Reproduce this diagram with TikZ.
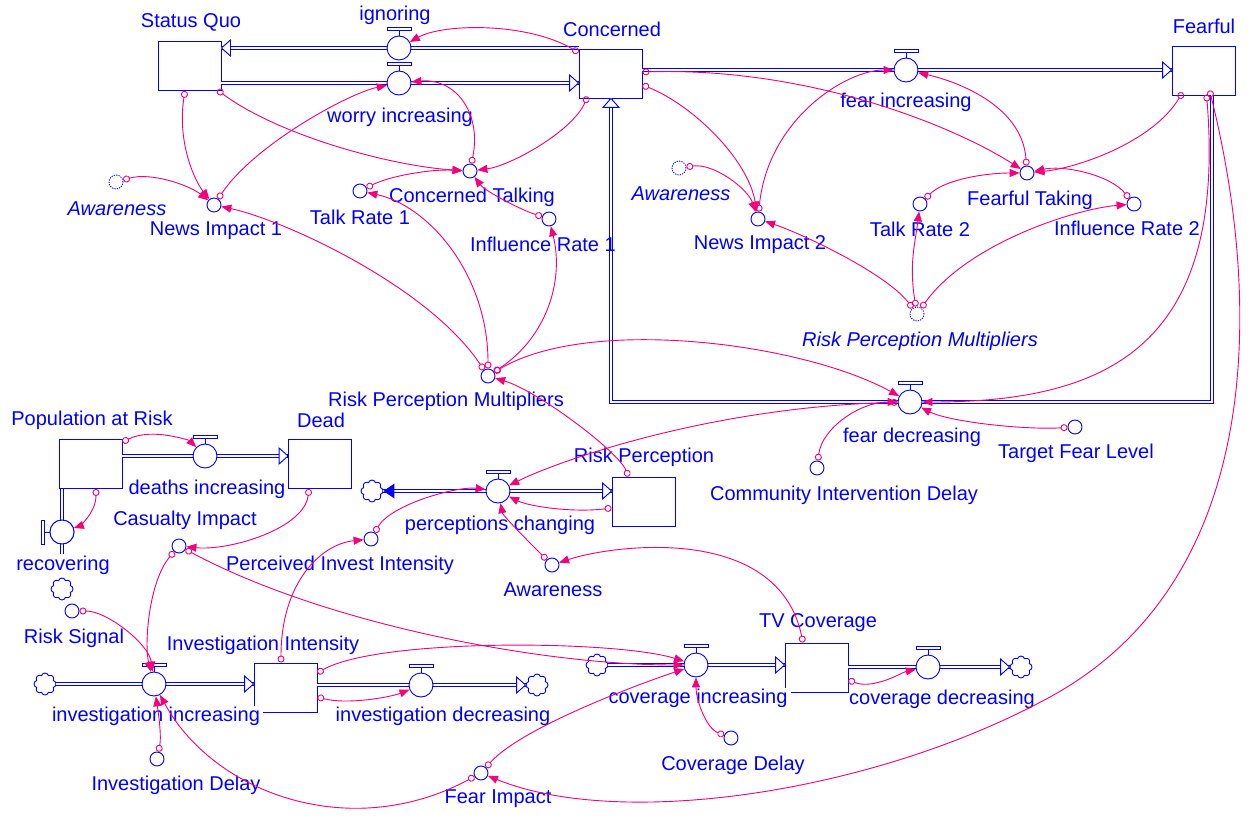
\documentclass[tikz,border=0pt]{standalone}
\usepackage{fontspec}
\setmainfont{Liberation Sans}
\usetikzlibrary{arrows.meta,shapes.symbols,calc}
\definecolor{sfblue}{RGB}{0,0,255}
\definecolor{lnk}{RGB}{245,0,120}
\tikzset{
 stock/.style={draw=sfblue, line width=0.9pt, minimum width=63pt, minimum height=49pt, inner sep=0pt},
 valvec/.style={circle, draw=sfblue, line width=0.9pt, minimum size=24pt, inner sep=0pt, fill=white},
 aux/.style={circle, draw=sfblue, line width=0.9pt, minimum size=14pt, inner sep=0pt},
 ghost/.style={aux, dash pattern=on 1.2pt off 1.2pt},
 cloudy/.style={cloud, cloud puffs=8, aspect=1, draw=sfblue, line width=0.9pt, minimum width=22pt, minimum height=22pt, inner sep=0pt, fill=white},
 lbl/.style={text=sfblue, font=\fontsize{20}{24}\selectfont, inner sep=0pt},
 ilbl/.style={lbl, font=\fontsize{20}{24}\selectfont\itshape},
 wlbl/.style={lbl, fill=white, inner xsep=3pt, inner ysep=1pt},
 pipe/.style={draw=sfblue, line width=0.9pt, double=white, double distance=2.4pt},
 phead/.style={draw=sfblue, line width=0.9pt, fill=white, line join=miter},
 conn/.style={draw=lnk, line width=0.9pt, arrows={Circle[open,length=7pt,width=7pt]-Triangle[length=10pt,width=8pt]}},
}
\newcommand{\mkvalve}[2]{%
 \node[valvec] (#1) at #2 {};
 \draw[sfblue, line width=0.9pt] (#1.north) -- ++(0,-5);
 \draw[sfblue, line width=0.9pt, fill=white] ($(#1.north)+(-12,-5)$) rectangle ($(#1.north)+(12,-8.5)$);
}
\newcommand{\headR}[1]{\draw[phead] (#1) -- ++(-9,-8) -- ++(0,16) -- cycle;}
\newcommand{\headL}[1]{\draw[phead] (#1) -- ++(9,-8) -- ++(0,16) -- cycle;}
\newcommand{\headU}[1]{\draw[phead] (#1) -- ++(-8,9) -- ++(16,0) -- cycle;}
\begin{document}
\begin{tikzpicture}[x=1pt,y=-1pt]
\useasboundingbox[fill=white] (0,0) rectangle (1254,824);
% flow positions
\coordinate (p-ign) at (399,48);
\coordinate (p-wor) at (399,83);
\coordinate (p-fin) at (906,70);
\coordinate (p-fdec) at (910,402);
\coordinate (p-deaths) at (205,456);
\coordinate (p-recov) at (62,532);
\coordinate (p-pchg) at (498,491);
\coordinate (p-invinc) at (154,684);
\coordinate (p-invdec) at (421,685);
\coordinate (p-covinc) at (696,665);
\coordinate (p-covdec) at (928,667);
\coordinate (fdR) at (1212,402);
\coordinate (fdL) at (611,402);
% stocks
\node[stock] (sq) at (189.5,66) {};
\node[stock] (conc) at (610.5,73.5) {};
\node[stock] (fear) at (1203.5,70.5) {};
\node[stock] (par) at (90.5,464) {};
\node[stock] (dead) at (320,464) {};
\node[stock] (rp) at (643.5,501.5) {};
\node[stock] (ii) at (285.5,687.5) {};
\node[stock] (tv) at (816.5,667.5) {};
% clouds
\node[cloudy] (cl1) at (372,491) {};
\node[cloudy] (cl2) at (45,684) {};
\node[cloudy] (cl3) at (537,685) {};
\node[cloudy] (cl4) at (597,665) {};
\node[cloudy] (cl5) at (1021,667) {};
\node[cloudy] (cl6) at (62,589) {};
% pipes
\draw[pipe] (conc.west |- p-ign) -- (sq.east |- p-ign);
\draw[pipe] (sq.east |- p-wor) -- (conc.west |- p-wor);
\draw[pipe] (conc.east |- p-fin) -- (fear.west |- p-fin);
\draw[pipe] (fear.south -| fdR) -- (fdR) -- (fdL) -- (conc.south -| fdL);
\draw[pipe] (par.east |- p-deaths) -- (dead.west |- p-deaths);
\node[valvec] (recov) at (p-recov) {};
\draw[pipe] (par.south -| p-recov) -- ([yshift=-10pt]recov.south);
\draw[pipe] (cl1.east |- p-pchg) -- (rp.west |- p-pchg);
\draw[pipe] (cl2.east |- p-invinc) -- (ii.west |- p-invinc);
\draw[pipe] (ii.east |- p-invdec) -- (cl3.west |- p-invdec);
\draw[pipe] (cl4.east |- p-covinc) -- (tv.west |- p-covinc);
\draw[pipe] (tv.east |- p-covdec) -- (cl5.west |- p-covdec);
% pipe heads
\headL{sq.east |- p-ign}
\headR{conc.west |- p-wor}
\headR{fear.west |- p-fin}
\headU{conc.south -| fdL}
\headR{dead.west |- p-deaths}
\headR{rp.west |- p-pchg}
\fill[sfblue] (cl1.east |- p-pchg) -- ++(11,-7.5) -- ++(0,15) -- cycle;
\headR{ii.west |- p-invinc}
\headR{cl3.west |- p-invdec}
\headR{tv.west |- p-covinc}
\headR{cl5.west |- p-covdec}
% valves
\mkvalve{ign}{(p-ign)}
\mkvalve{wor}{(p-wor)}
\mkvalve{fin}{(p-fin)}
\mkvalve{fdec}{(p-fdec)}
\mkvalve{deaths}{(p-deaths)}
\mkvalve{pchg}{(p-pchg)}
\mkvalve{invinc}{(p-invinc)}
\mkvalve{invdec}{(p-invdec)}
\mkvalve{covinc}{(p-covinc)}
\mkvalve{covdec}{(p-covdec)}
\draw[sfblue, line width=0.9pt, fill=white] (recov) circle[radius=12pt];
\draw[sfblue, line width=0.9pt] (recov.west) -- ++(-5,0);
\draw[sfblue, line width=0.9pt, fill=white] ($(recov.west)+(-5,-12)$) rectangle ($(recov.west)+(-8.5,12)$);
% auxiliaries
\node[aux] (ct) at (470,171) {};
\node[aux] (tr1) at (360,191) {};
\node[aux] (ir1) at (549,219) {};
\node[aux] (ni1) at (214,205) {};
\node[ghost] (aw1) at (116,182) {};
\node[aux] (ni2) at (758,219) {};
\node[ghost] (aw2) at (679,168) {};
\node[aux] (ft) at (1027,173) {};
\node[aux] (tr2) at (920,204) {};
\node[aux] (ir2) at (1134,204) {};
\node[ghost] (rpm2) at (917,314) {};
\node[aux] (rpm1) at (488,376) {};
\node[aux] (tfl) at (1075,427) {};
\node[aux] (cid) at (817,468) {};
\node[aux] (ci) at (179,546) {};
\node[aux] (pii) at (371,539) {};
\node[aux] (aw3) at (552,565) {};
\node[aux] (rs) at (72,611) {};
\node[aux] (idl) at (157,759) {};
\node[aux] (fi) at (481,773) {};
\node[aux] (cd) at (731,738) {};
% labels
\node[lbl] at (191,22) {Status Quo};
\node[lbl] at (395,15) {ignoring};
\node[lbl] at (612,29) {Concerned};
\node[lbl] at (400,117) {worry increasing};
\node[lbl] at (906,102) {fear increasing};
\node[lbl] at (1204,26) {Fearful};
\node[lbl] at (472,197) {Concerned Talking};
\node[lbl] at (360,217) {Talk Rate 1};
\node[lbl] at (543,244) {Influence Rate 1};
\node[lbl] at (216,231) {News Impact 1};
\node[ilbl] at (117,209) {Awareness};
\node[ilbl] at (681,194) {Awareness};
\node[lbl] at (760,245) {News Impact 2};
\node[lbl] at (1030,200) {Fearful Taking};
\node[lbl] at (920,229) {Talk Rate 2};
\node[lbl] at (1127,228) {Influence Rate 2};
\node[ilbl] at (920,341) {Risk Perception Multipliers};
\node[lbl] at (446,401) {Risk Perception Multipliers};
\node[lbl] at (912,437) {fear decreasing};
\node[lbl] at (1076,453) {Target Fear Level};
\node[lbl] at (844,495) {Community Intervention Delay};
\node[lbl] at (92,420) {Population at Risk};
\node[lbl] at (321,420) {Dead};
\node[wlbl] at (207,489) {deaths increasing};
\node[lbl] at (63,565) {recovering};
\node[lbl] at (185,520) {Casualty Impact};
\node[lbl] at (644,457) {Risk Perception};
\node[lbl] at (500,525) {perceptions changing};
\node[lbl] at (340,565) {Perceived Invest Intensity};
\node[lbl] at (553,590) {Awareness};
\node[lbl] at (74,638) {Risk Signal};
\node[lbl] at (263,645) {Investigation Intensity};
\node[lbl] at (818,623) {TV Coverage};
\node[wlbl] at (156,716) {investigation increasing};
\node[lbl] at (443,716) {investigation decreasing};
\node[wlbl] at (698,698) {coverage increasing};
\node[lbl] at (942,699) {coverage decreasing};
\node[lbl] at (733,765) {Coverage Delay};
\node[lbl] at (176,785) {Investigation Delay};
\node[lbl] at (498,799) {Fear Impact};
% connectors: upper left
\draw[conn] ([yshift=-4pt]conc.north west) .. controls +(-50,-30) and +(45,-25) .. (ign);
\draw[conn] ([xshift=9pt,yshift=2pt]conc.south west) .. controls +(-15,35) and +(40,-5) .. (ct);
\draw[conn] (ct) .. controls +(12,-60) and +(55,-5) .. (wor);
\draw[conn] (ni1) .. controls +(40,-60) and +(-50,10) .. (wor);
\draw[conn] ([xshift=-4.5pt]sq.south) .. controls +(-8,50) and +(-20,-25) .. (ni1);
\draw[conn] ([xshift=-4pt,yshift=1pt]sq.south east) .. controls +(60,45) and +(-80,-5) .. (ct);
\draw[conn] (tr1) .. controls +(30,-15) and +(-40,-2) .. (ct);
\draw[conn] (ir1) .. controls +(-30,-10) and +(15,20) .. (ct);
\draw[conn] (aw1) .. controls +(35,-10) and +(-25,-20) .. (ni1);
\draw[conn] (rpm1) .. controls +(-60,-90) and +(70,15) .. (ni1);
\draw[conn] (rpm1) .. controls +(0,-100) and +(70,15) .. (tr1);
\draw[conn] (rpm1) .. controls +(60,-40) and +(15,60) .. (ir1);
\draw[conn] (rpm1) .. controls +(100,-60) and +(-110,-60) .. (fdec);
\draw[conn] ([xshift=-15pt]rp.north) .. controls +(-10,-25) and +(50,15) .. (rpm1);
% connectors: upper right
\draw[conn] ([yshift=1.5pt]conc.east) .. controls +(170,-5) and +(-70,-45) .. (ft);
\draw[conn] ([yshift=-11.5pt]conc.east) .. controls +(50,20) and +(-10,-60) .. (ni2);
\draw[conn] (ni2) .. controls +(10,-100) and +(-60,0) .. (fin);
\draw[conn] (ft) .. controls +(-5,-70) and +(45,10) .. (fin);
\draw[conn] ([xshift=11pt,yshift=3pt]fear.south west) .. controls +(-30,50) and +(50,-5) .. (ft);
\draw[conn] (tr2) .. controls +(25,-25) and +(-40,0) .. (ft);
\draw[conn] (ir2) .. controls +(-25,-30) and +(35,-8) .. (ft);
\draw[conn] (aw2) .. controls +(35,-5) and +(-10,-30) .. (ni2);
\draw[conn] (rpm2) .. controls +(-30,-40) and +(45,15) .. (ni2);
\draw[conn] (rpm2) .. controls +(-8,-50) and +(-5,40) .. (tr2);
\draw[conn] (rpm2) .. controls +(50,-70) and +(-60,5) .. (ir2);
\draw[conn] ([xshift=35pt,yshift=1pt]fear.south west) .. controls +(20,250) and +(200,0) .. (fdec);
\coordinate (arcm) at (1050,697);
\draw[conn] ([xshift=38pt,yshift=5pt]fear.south west) .. controls +(50,200) and +(220,-120) .. (arcm) .. controls +(-176,96) and +(140,57) .. (fi);
\draw[conn] (tfl) .. controls +(-50,3) and +(40,20) .. (fdec);
\draw[conn] (cid) .. controls +(5,-40) and +(-50,0) .. (fdec);
% connectors: middle
\draw[conn] (fdec) .. controls +(-200,5) and +(60,-30) .. (pchg);
\draw[conn] ([yshift=-6.5pt]rp.west) .. controls +(-40,5) and +(30,15) .. (pchg);
\draw[conn] (aw3) .. controls +(-20,-20) and +(5,25) .. (pchg);
\draw[conn] ([xshift=-13.5pt]tv.north) .. controls +(-25,-120) and +(60,-20) .. (aw3);
\draw[conn] (pii) .. controls +(20,-35) and +(-40,-5) .. (pchg);
\draw[conn] ([xshift=-4.5pt]ii.north) .. controls +(0,-80) and +(-50,5) .. (pii);
\draw[conn] ([xshift=-11pt]dead.south) .. controls +(-5,40) and +(50,5) .. (ci);
\draw[conn] ([yshift=-3pt]par.north east) .. controls +(30,-15) and +(-15,-15) .. (deaths);
\draw[conn] ([xshift=5.5pt]par.south) .. controls +(0,25) and +(15,-5) .. (recov);
% connectors: bottom
\draw[conn] (ci) .. controls +(-30,35) and +(-10,-40) .. (invinc);
\draw[conn] (rs) .. controls +(35,0) and +(-5,-40) .. (invinc);
\draw[conn] (idl) .. controls +(5,-25) and +(3,20) .. (invinc);
\draw[conn] (fi) .. controls +(-130,70) and +(60,110) .. (invinc);
\draw[conn] ([yshift=-9.5pt]ii.east) .. controls +(30,8) and +(-30,12) .. (invdec);
\draw[conn] ([yshift=14.5pt]ii.east) .. controls +(60,-35) and +(-80,-25) .. (covinc);
\draw[conn] (ci) .. controls +(150,80) and +(-150,0) .. (covinc);
\draw[conn] (fi) .. controls +(40,-45) and +(-60,20) .. (covinc);
\draw[conn] (cd) .. controls +(-25,-10) and +(0,35) .. (covinc);
\draw[conn] ([yshift=-12.5pt]tv.east) .. controls +(25,10) and +(-25,5) .. (covdec);
\end{tikzpicture}
\end{document}
